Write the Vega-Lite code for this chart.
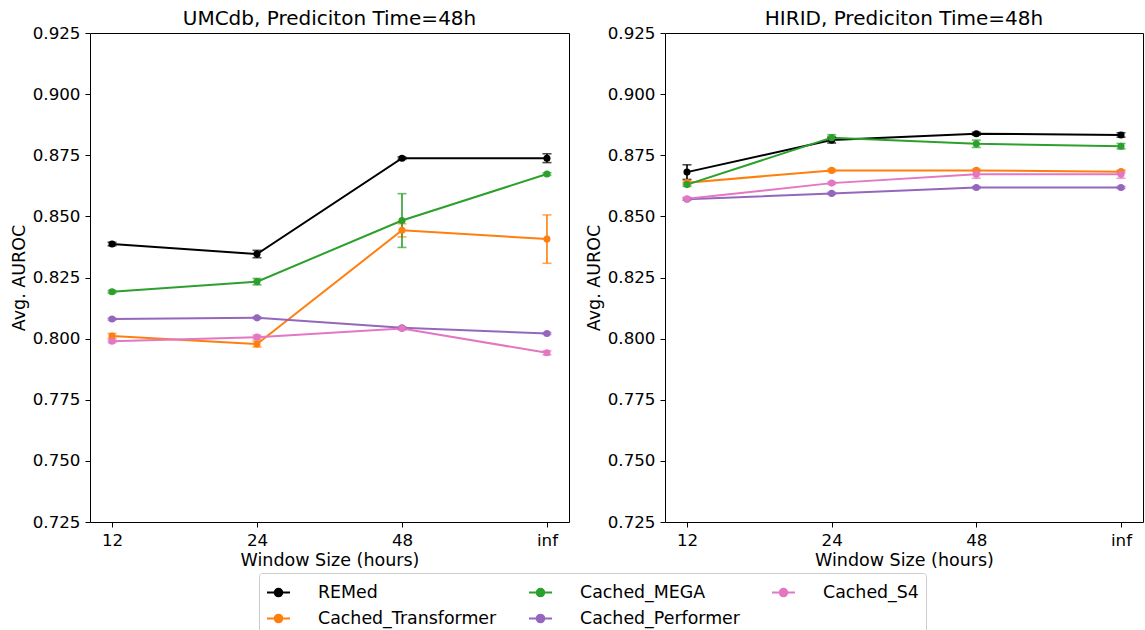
{
  "$schema": "https://vega.github.io/schema/vega-lite/v6.json",
  "padding": {"left": 9, "top": 8, "right": 2, "bottom": 0},
  "data": {"values": [
    {"dataset": "UMCdb", "model": "REMed", "window": "12", "value": 0.8387, "err": 0.0007},
    {"dataset": "UMCdb", "model": "REMed", "window": "24", "value": 0.8346, "err": 0.0015},
    {"dataset": "UMCdb", "model": "REMed", "window": "48", "value": 0.8738, "err": 0.0005},
    {"dataset": "UMCdb", "model": "REMed", "window": "inf", "value": 0.8738, "err": 0.0018},
    {"dataset": "UMCdb", "model": "Cached_Transformer", "window": "12", "value": 0.8011, "err": 0.001},
    {"dataset": "UMCdb", "model": "Cached_Transformer", "window": "24", "value": 0.7978, "err": 0.0012},
    {"dataset": "UMCdb", "model": "Cached_Transformer", "window": "48", "value": 0.8443, "err": 0.0027},
    {"dataset": "UMCdb", "model": "Cached_Transformer", "window": "inf", "value": 0.8407, "err": 0.0099},
    {"dataset": "UMCdb", "model": "Cached_MEGA", "window": "12", "value": 0.8192, "err": 0.0005},
    {"dataset": "UMCdb", "model": "Cached_MEGA", "window": "24", "value": 0.8233, "err": 0.0013},
    {"dataset": "UMCdb", "model": "Cached_MEGA", "window": "48", "value": 0.8483, "err": 0.011},
    {"dataset": "UMCdb", "model": "Cached_MEGA", "window": "inf", "value": 0.8673, "err": 0.0005},
    {"dataset": "UMCdb", "model": "Cached_Performer", "window": "12", "value": 0.808, "err": 0.0004},
    {"dataset": "UMCdb", "model": "Cached_Performer", "window": "24", "value": 0.8085, "err": 0.0004},
    {"dataset": "UMCdb", "model": "Cached_Performer", "window": "48", "value": 0.8044, "err": 0.0004},
    {"dataset": "UMCdb", "model": "Cached_Performer", "window": "inf", "value": 0.8021, "err": 0.0004},
    {"dataset": "UMCdb", "model": "Cached_S4", "window": "12", "value": 0.7989, "err": 0.0005},
    {"dataset": "UMCdb", "model": "Cached_S4", "window": "24", "value": 0.8006, "err": 0.0008},
    {"dataset": "UMCdb", "model": "Cached_S4", "window": "48", "value": 0.8041, "err": 0.0006},
    {"dataset": "UMCdb", "model": "Cached_S4", "window": "inf", "value": 0.7942, "err": 0.0008},
    {"dataset": "HIRID", "model": "REMed", "window": "12", "value": 0.8681, "err": 0.003},
    {"dataset": "HIRID", "model": "REMed", "window": "24", "value": 0.8812, "err": 0.0012},
    {"dataset": "HIRID", "model": "REMed", "window": "48", "value": 0.8838, "err": 0.0006},
    {"dataset": "HIRID", "model": "REMed", "window": "inf", "value": 0.8833, "err": 0.0009},
    {"dataset": "HIRID", "model": "Cached_Transformer", "window": "12", "value": 0.8638, "err": 0.0008},
    {"dataset": "HIRID", "model": "Cached_Transformer", "window": "24", "value": 0.8688, "err": 0.0005},
    {"dataset": "HIRID", "model": "Cached_Transformer", "window": "48", "value": 0.8688, "err": 0.0005},
    {"dataset": "HIRID", "model": "Cached_Transformer", "window": "inf", "value": 0.8683, "err": 0.0005},
    {"dataset": "HIRID", "model": "Cached_MEGA", "window": "12", "value": 0.863, "err": 0.0007},
    {"dataset": "HIRID", "model": "Cached_MEGA", "window": "24", "value": 0.8822, "err": 0.0012},
    {"dataset": "HIRID", "model": "Cached_MEGA", "window": "48", "value": 0.8797, "err": 0.0015},
    {"dataset": "HIRID", "model": "Cached_MEGA", "window": "inf", "value": 0.8787, "err": 0.0011},
    {"dataset": "HIRID", "model": "Cached_Performer", "window": "12", "value": 0.857, "err": 0.0004},
    {"dataset": "HIRID", "model": "Cached_Performer", "window": "24", "value": 0.8594, "err": 0.0004},
    {"dataset": "HIRID", "model": "Cached_Performer", "window": "48", "value": 0.8618, "err": 0.0004},
    {"dataset": "HIRID", "model": "Cached_Performer", "window": "inf", "value": 0.8618, "err": 0.0004},
    {"dataset": "HIRID", "model": "Cached_S4", "window": "12", "value": 0.8572, "err": 0.0006},
    {"dataset": "HIRID", "model": "Cached_S4", "window": "24", "value": 0.8636, "err": 0.0005},
    {"dataset": "HIRID", "model": "Cached_S4", "window": "48", "value": 0.8672, "err": 0.0016},
    {"dataset": "HIRID", "model": "Cached_S4", "window": "inf", "value": 0.8672, "err": 0.0016}
  ]},
  "spacing": 14,
  "hconcat": [
    {
      "title": "UMCdb, Prediciton Time=48h",
      "width": 479,
      "height": 489,
      "transform": [{"filter": "datum.dataset === 'UMCdb'"}],
      "encoding": {
        "x": {"field": "window", "type": "ordinal", "scale": {"type": "point", "domain": ["12", "24", "48", "inf"], "padding": 0.152}, "axis": {"title": "Window Size (hours)", "labelAngle": 0}},
        "y": {"field": "value", "type": "quantitative", "scale": {"domain": [0.725, 0.925], "zero": false, "nice": false}, "axis": {"title": "Avg. AUROC", "values": [0.725, 0.75, 0.775, 0.8, 0.825, 0.85, 0.875, 0.9, 0.925], "format": ".3f"}},
        "color": {"field": "model", "type": "nominal", "scale": {"domain": ["REMed", "Cached_MEGA", "Cached_S4", "Cached_Transformer", "Cached_Performer"], "range": ["#000000", "#2ca02c", "#e377c2", "#ff7f0e", "#9467bd"]}}
      },
      "layer": [
        {"mark": {"type": "line", "strokeWidth": 2}},
        {"mark": {"type": "errorbar", "ticks": {"size": 9}, "thickness": 1.6}, "encoding": {"y": {"field": "value", "type": "quantitative"}, "yError": {"field": "err"}}},
        {"mark": {"type": "point", "filled": true, "size": 50, "opacity": 1}}
      ]
    },
    {
      "title": "HIRID, Prediciton Time=48h",
      "width": 478,
      "height": 489,
      "transform": [{"filter": "datum.dataset === 'HIRID'"}],
      "encoding": {
        "x": {"field": "window", "type": "ordinal", "scale": {"type": "point", "domain": ["12", "24", "48", "inf"], "padding": 0.152}, "axis": {"title": "Window Size (hours)", "labelAngle": 0}},
        "y": {"field": "value", "type": "quantitative", "scale": {"domain": [0.725, 0.925], "zero": false, "nice": false}, "axis": {"title": "Avg. AUROC", "values": [0.725, 0.75, 0.775, 0.8, 0.825, 0.85, 0.875, 0.9, 0.925], "format": ".3f"}},
        "color": {"field": "model", "type": "nominal", "scale": {"domain": ["REMed", "Cached_MEGA", "Cached_S4", "Cached_Transformer", "Cached_Performer"], "range": ["#000000", "#2ca02c", "#e377c2", "#ff7f0e", "#9467bd"]}}
      },
      "layer": [
        {"mark": {"type": "line", "strokeWidth": 2}},
        {"mark": {"type": "errorbar", "ticks": {"size": 9}, "thickness": 1.6}, "encoding": {"y": {"field": "value", "type": "quantitative"}, "yError": {"field": "err"}}},
        {"mark": {"type": "point", "filled": true, "size": 50, "opacity": 1}}
      ]
    }
  ],
  "resolve": {"scale": {"color": "shared", "y": "independent", "x": "independent"}},
  "config": {
    "font": "DejaVu Sans",
    "background": "white",
    "view": {"stroke": "#000", "strokeWidth": 1},
    "title": {"fontSize": 20, "fontWeight": "normal", "color": "#000", "offset": -4, "font": "DejaVu Sans"},
    "axis": {"grid": false, "domain": false, "tickColor": "#000", "tickSize": 5, "tickWidth": 1, "labelPadding": 5, "labelFontSize": 16.7, "labelColor": "#000", "titleFontSize": 17.5, "titleFontWeight": "normal", "titleColor": "#000", "titlePadding": 4},
    "axisX": {"titlePadding": 3},
    "legend": {
      "orient": "none",
      "legendX": 169,
      "legendY": 540,
      "direction": "horizontal",
      "columns": 3,
      "title": null,
      "strokeColor": "#cccccc",
      "cornerRadius": 3,
      "padding": 7,
      "labelFontSize": 17.4,
      "labelColor": "#000",
      "symbolType": "M-1,0H1M0.33,0A0.33,0.33,0,1,1,-0.33,0A0.33,0.33,0,1,1,0.33,0",
      "symbolSize": 529,
      "symbolStrokeWidth": 2,
      "symbolOpacity": 1,
      "labelOffset": 27,
      "columnPadding": 28,
      "rowPadding": 5,
      "labelLimit": 400
    }
  }
}
